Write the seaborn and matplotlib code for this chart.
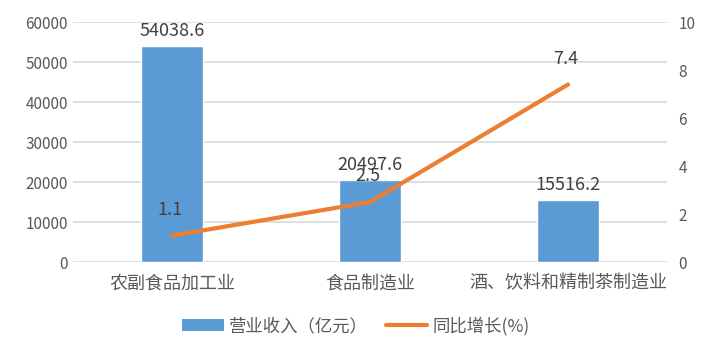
import matplotlib
matplotlib.use("Agg")
import matplotlib.pyplot as plt
import seaborn as sns
import pandas as pd
from matplotlib.patches import Patch
from matplotlib.lines import Line2D

categories = ["农副食品加工业", "食品制造业", "酒、饮料和精制茶制造业"]
revenue = [54038.6, 20497.6, 15516.2]
growth = [1.1, 2.5, 7.4]

bar_color = "#5b9bd5"
line_color = "#ed7d31"
text_color = "#595959"

sns.set_theme(style="white")
plt.rcParams["font.family"] = ["Noto Sans CJK SC", "DejaVu Sans"]

df = pd.DataFrame({"category": categories, "revenue": revenue, "growth": growth})

fig = plt.figure(figsize=(7.12, 3.56), dpi=100)
ax = fig.add_axes([0.1025, 0.264, 0.8345, 0.674])

sns.barplot(data=df, x="category", y="revenue", color=bar_color, width=0.31,
            saturation=1, ax=ax, zorder=2)
ax.set_ylim(0, 60000)
ax.set_yticks(range(0, 60001, 10000))
ax.set_xlim(-0.5, 2.5)
ax.yaxis.grid(True, color="#d9d9d9", linewidth=1.2, zorder=0)
ax.set_axisbelow(True)
ax.set_xlabel("")
ax.set_ylabel("")
for s in ax.spines.values():
    s.set_visible(False)
ax.tick_params(axis="both", length=0, colors=text_color, labelsize=11)
ax.tick_params(axis="x", pad=9, labelsize=13)
for lbl in ax.get_xticklabels():
    lbl.set_color(text_color)

for i, v in enumerate(revenue):
    ax.text(i, v + 1500, f"{v:.1f}", ha="center", va="bottom", fontsize=13, color="#404040")

ax2 = ax.twinx()
sns.lineplot(x=list(range(len(categories))), y=growth, color=line_color, linewidth=3,
             ax=ax2, solid_capstyle="round")
ax2.set_ylim(0, 10)
ax2.set_yticks(range(0, 11, 2))
for s in ax2.spines.values():
    s.set_visible(False)
ax2.tick_params(axis="y", length=0, colors=text_color, labelsize=11, pad=8)
ax2.set_ylabel("")
for i, v in enumerate(growth):
    ax2.text(i - 0.01, v + 0.7, f"{v:.1f}", ha="center", va="bottom", fontsize=13, color="#404040")

handles = [Patch(facecolor=bar_color, edgecolor="none"),
           Line2D([0], [0], color=line_color, linewidth=3)]
fig.legend(handles, ["营业收入（亿元）", "同比增长(%)"], loc="center",
           bbox_to_anchor=(0.5, 0.085), ncol=2, frameon=False, fontsize=12.5,
           labelcolor=text_color, handlelength=2.4, handletextpad=0.3, columnspacing=1.0)

fig.savefig("out.png", dpi=100)
